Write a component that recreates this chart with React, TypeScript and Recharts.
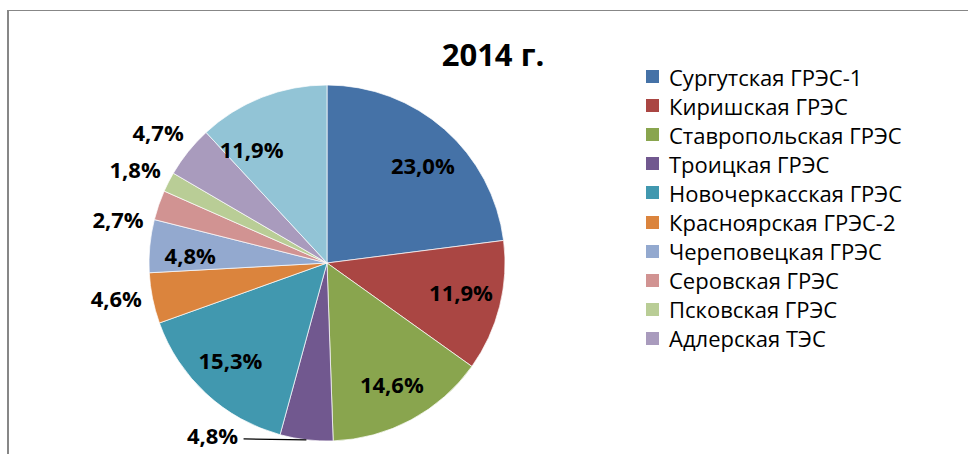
import React from 'react';
import { PieChart, Pie, Cell, Legend } from 'recharts';

// plants, as listed in the legend (the last slice has no legend row)
const plants = [
  'Сургутская ГРЭС-1',
  'Киришская ГРЭС',
  'Ставропольская ГРЭС',
  'Троицкая ГРЭС',
  'Новочеркасская ГРЭС',
  'Красноярская ГРЭС-2',
  'Череповецкая ГРЭС',
  'Серовская ГРЭС',
  'Псковская ГРЭС',
  'Адлерская ТЭС',
  'Прочие',
];

// share of each plant, %
const shares = [23.0, 11.9, 14.6, 4.8, 15.3, 4.6, 4.8, 2.7, 1.8, 4.7, 11.9];

const colors = [
  '#4572A7', '#AA4643', '#89A54E', '#71588F', '#4198AF', '#DB843D',
  '#93A9CF', '#D19392', '#B9CD96', '#A99BBD', '#92C4D6',
];

// label layout: inside / outside, and a nudge in degrees (clockwise)
const labelOutside = [false, false, false, true, false, true, false, true, true, true, false];
const labelNudge = [3, -2, 0, 27, 2, 2, -2, -7, -1, -1, -12];

const legendRows = 10;

const data = plants.map((name, i) => ({ name, value: shares[i] }));

const RADIAN = Math.PI / 180;
const FONT = '"Open Sans", sans-serif';

const fmt = (v: number) => v.toFixed(1).replace('.', ',') + '%';

const SliceLabel: React.FC<any> = ({ cx, cy, midAngle, outerRadius, index, value }) => {
  const outside = labelOutside[index];
  const angle = midAngle - labelNudge[index];
  const needLine = Math.abs(labelNudge[index]) > 15;
  const r = outside ? outerRadius * (needLine ? 1.16 : 1.2) : outerRadius * 0.77;
  const x = cx + r * Math.cos(-angle * RADIAN);
  const y = cy + r * Math.sin(-angle * RADIAN);
  const ex = cx + outerRadius * Math.cos(-midAngle * RADIAN);
  const ey = cy + outerRadius * Math.sin(-midAngle * RADIAN);
  return (
    <g>
      {needLine && (
        <line x1={ex} y1={ey} x2={x + 31} y2={y + 4} stroke="#000" strokeWidth={1.2} />
      )}
      <text
        x={x}
        y={y}
        textAnchor="middle"
        dominantBaseline="central"
        fontFamily={FONT}
        fontWeight={700}
        fontSize={22}
        fill="#000"
      >
        {fmt(value)}
      </text>
    </g>
  );
};

const LegendList: React.FC<any> = ({ payload }) => {
  const rows = [...(payload || [])]
    .sort((a: any, b: any) => plants.indexOf(a.value) - plants.indexOf(b.value))
    .slice(0, legendRows);
  return (
    <div style={{ fontFamily: FONT, fontSize: 22, color: '#000' }}>
      {rows.map((p: any) => (
        <div key={p.value} style={{ display: 'flex', alignItems: 'center', height: 29.1 }}>
          <span style={{ width: 13, height: 13, background: p.color, marginRight: 10, flex: 'none' }} />
          <span style={{ whiteSpace: 'nowrap' }}>{p.value}</span>
        </div>
      ))}
    </div>
  );
};

export default function App() {
  return (
    <div style={{ position: 'absolute', left: 0, top: 0, width: 968, height: 454, overflow: 'hidden', background: '#fff' }}>
      <div
        style={{
          position: 'absolute',
          left: 7,
          top: 10,
          width: 1000,
          height: 600,
          borderTop: '1.5px solid #878787',
          borderLeft: '2px solid #878787',
        }}
      />
      <div
        style={{
          position: 'absolute',
          left: 393,
          top: 33,
          width: 200,
          textAlign: 'center',
          fontFamily: FONT,
          fontWeight: 700,
          fontSize: 31,
          color: '#000',
        }}
      >
        2014 г.
      </div>
      <div style={{ position: 'absolute', left: 0, top: 0 }}>
        <PieChart width={968} height={454} margin={{ top: 0, right: 0, bottom: 0, left: 0 }}>
          <Pie
            data={data}
            dataKey="value"
            nameKey="name"
            cx={327}
            cy={263}
            outerRadius={178}
            startAngle={90}
            endAngle={-270}
            stroke="#ffffff"
            strokeWidth={0.7}
            label={<SliceLabel />}
            labelLine={false}
            isAnimationActive={false}
          >
            {data.map((d, i) => (
              <Cell key={d.name} fill={colors[i]} />
            ))}
          </Pie>
          <Legend
            layout="vertical"
            verticalAlign="top"
            align="right"
            content={<LegendList />}
            wrapperStyle={{ left: 646, top: 62, width: 320 }}
          />
        </PieChart>
      </div>
    </div>
  );
}
